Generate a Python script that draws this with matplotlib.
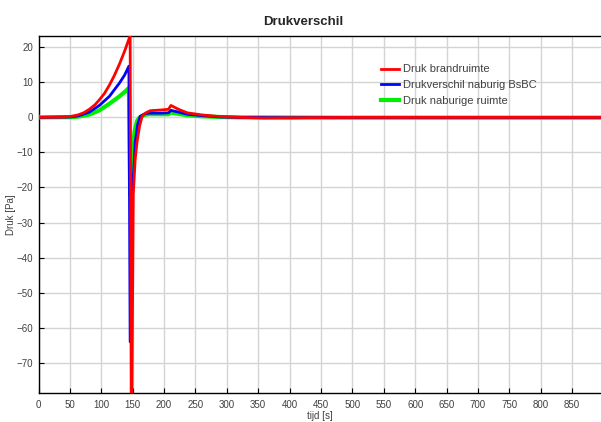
import numpy as np
import matplotlib.pyplot as plt

plt.rcParams['font.family'] = ['Liberation Sans', 'DejaVu Sans']

# pressure in the fire compartment
tijd_brand = [0, 40, 50, 63, 72, 81, 90, 97, 105, 113, 121, 129, 137, 146,
              148, 151, 154, 157, 161, 165, 171, 178, 195, 207, 211, 223,
              237, 260, 290, 320, 360, 420, 500, 700, 900]
druk_brand = [0, 0.1, 0.2, 0.7, 1.3, 2.3, 3.6, 5.0, 6.8, 9.2, 12.0, 15.2, 18.8, 23.3,
              -100, -22, -12, -7, -2.5, 0.3, 1.3, 1.9, 2.1, 2.3, 3.4, 2.3,
              1.3, 0.7, 0.2, 0.0, -0.2, -0.1, 0, 0, 0]

# pressure difference to the neighbouring BsBC
tijd_bsbc = [0, 50, 63, 81, 97, 113, 129, 137, 144,
             146, 150, 154, 158, 162, 169, 176, 195, 207, 211, 223,
             237, 260, 290, 320, 400, 500, 700, 900]
druk_bsbc = [0, 0.1, 0.4, 1.5, 3.4, 6.0, 9.8, 12.0, 14.6,
             -64, -21, -7, -2, 0.3, 1.0, 1.2, 1.2, 1.3, 2.0, 1.5,
             0.9, 0.5, 0.1, 0, -0.1, 0, 0, 0]

# pressure in the neighbouring room
tijd_naburig = [0, 50, 63, 81, 97, 113, 129, 137, 144,
                146, 147, 150, 153, 157, 161, 169, 176, 195, 207, 211, 223,
                237, 260, 290, 320, 500, 700, 900]
druk_naburig = [0, 0.05, 0.2, 0.8, 2.0, 3.9, 6.0, 7.2, 8.4,
                -22, -20, -10, -4, -1, 0, 0.7, 0.9, 0.9, 0.9, 1.4, 1.0,
                0.6, 0.3, 0.1, 0, -0.1, -0.1, -0.1]

xticks = np.arange(0, 851, 50)
yticks = np.arange(-70, 21, 10)

fig = plt.figure(figsize=(6.01, 4.22), dpi=100)
ax = fig.add_axes([38.5 / 601, 1 - 393 / 422, 1 - 38.5 / 601 + 0.002, (393 - 36) / 422])

l3, = ax.plot(tijd_naburig, druk_naburig, color='#00ee00', lw=3.0, label='Druk naburige ruimte', zorder=3)
l2, = ax.plot(tijd_bsbc, druk_bsbc, color='#0000ff', lw=2.0, label='Drukverschil naburig BsBC', zorder=4)
l1, = ax.plot(tijd_brand, druk_brand, color='#ff0000', lw=2.0, label='Druk brandruimte', zorder=5)

ax.set_xlim(0, 898)
ax.set_ylim(-78.6, 23.2)
ax.set_xticks(xticks)
ax.set_yticks(yticks)
ax.grid(True, color='#d4d4d4', lw=1.0)
ax.set_axisbelow(True)
ax.tick_params(direction='in', length=3.5, labelsize=7, labelcolor='#404040')
ax.tick_params(axis='x', pad=5)
ax.tick_params(axis='y', pad=4)
ax.spines['right'].set_visible(False)
for s in ['left', 'bottom', 'top']:
    ax.spines[s].set_linewidth(1.0)

fig.text(303 / 601, 1 - 22 / 422, 'Drukverschil', fontsize=9.5, fontweight='bold',
         color='#262626', ha='center', va='center')
ax.set_xlabel('tijd [s]', fontsize=7, color='#404040', labelpad=1)
ax.set_ylabel('Druk [Pa]', fontsize=7, color='#404040', labelpad=0)

leg = ax.legend(handles=[l1, l2, l3], loc='upper left', bbox_to_anchor=(377 / 601, 1 - 60 / 422),
                bbox_transform=fig.transFigure, frameon=False, fontsize=8,
                handlelength=1.6, handletextpad=0.35, labelspacing=0.5, borderaxespad=0)
for txt in leg.get_texts():
    txt.set_color('#404040')

fig.savefig('out.png', dpi=100)
